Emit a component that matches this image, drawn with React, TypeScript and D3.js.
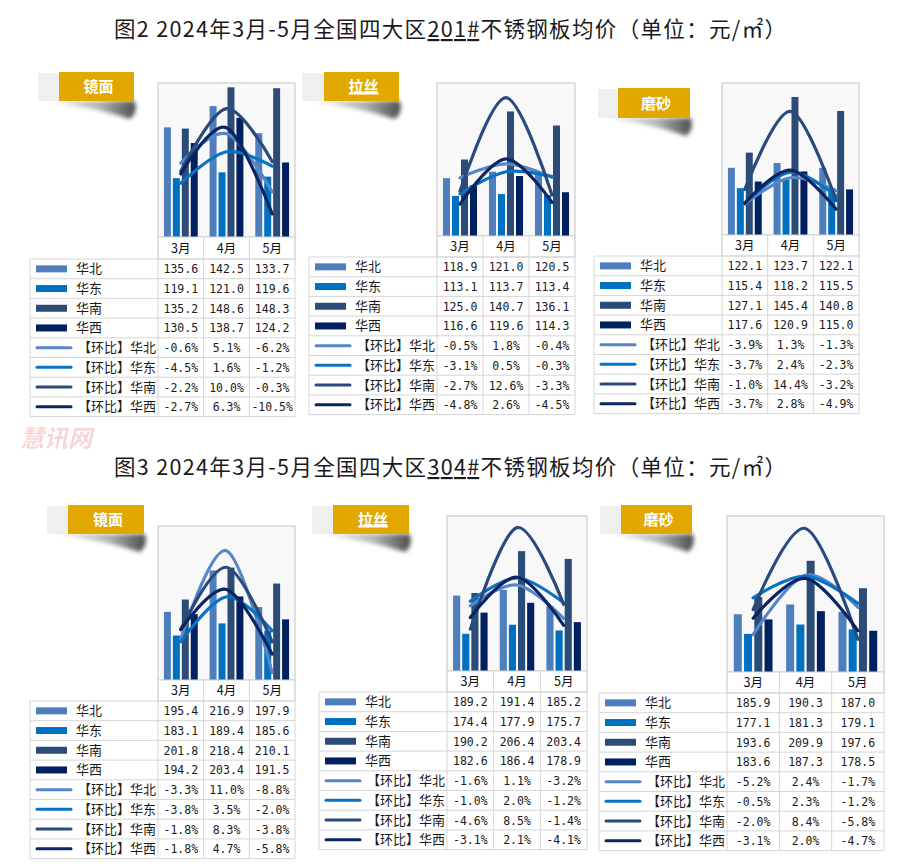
import React from "react";
import * as d3 from "d3";

const W = 900;
const H = 866;

const months = ["3月", "4月", "5月"];
const regions = ["华北", "华东", "华南", "华西"];

// 201# prices (rows: 华北, 华东, 华南, 华西; cols: 3月, 4月, 5月)
const p201Mirror = [[135.6, 142.5, 133.7], [119.1, 121.0, 119.6], [135.2, 148.6, 148.3], [130.5, 138.7, 124.2]];
const p201MirrorMoM = [[-0.6, 5.1, -6.2], [-4.5, 1.6, -1.2], [-2.2, 10.0, -0.3], [-2.7, 6.3, -10.5]];
const p201Brushed = [[118.9, 121.0, 120.5], [113.1, 113.7, 113.4], [125.0, 140.7, 136.1], [116.6, 119.6, 114.3]];
const p201BrushedMoM = [[-0.5, 1.8, -0.4], [-3.1, 0.5, -0.3], [-2.7, 12.6, -3.3], [-4.8, 2.6, -4.5]];
const p201Matte = [[122.1, 123.7, 122.1], [115.4, 118.2, 115.5], [127.1, 145.4, 140.8], [117.6, 120.9, 115.0]];
const p201MatteMoM = [[-3.9, 1.3, -1.3], [-3.7, 2.4, -2.3], [-1.0, 14.4, -3.2], [-3.7, 2.8, -4.9]];
// 304# prices
const p304Mirror = [[195.4, 216.9, 197.9], [183.1, 189.4, 185.6], [201.8, 218.4, 210.1], [194.2, 203.4, 191.5]];
const p304MirrorMoM = [[-3.3, 11.0, -8.8], [-3.8, 3.5, -2.0], [-1.8, 8.3, -3.8], [-1.8, 4.7, -5.8]];
const p304Brushed = [[189.2, 191.4, 185.2], [174.4, 177.9, 175.7], [190.2, 206.4, 203.4], [182.6, 186.4, 178.9]];
const p304BrushedMoM = [[-1.6, 1.1, -3.2], [-1.0, 2.0, -1.2], [-4.6, 8.5, -1.4], [-3.1, 2.1, -4.1]];
const p304Matte = [[185.9, 190.3, 187.0], [177.1, 181.3, 179.1], [193.6, 209.9, 197.6], [183.6, 187.3, 178.5]];
const p304MatteMoM = [[-5.2, 2.4, -1.7], [-0.5, 2.3, -1.2], [-2.0, 8.4, -5.8], [-3.1, 2.0, -4.7]];

const finishLabels = ["镜面", "拉丝", "磨砂"];
const barDomains = [[100, 150], [100, 150], [100, 150], [160, 240], [160, 220], [160, 230]];
const lineDomains = [[-15, 15], [-10, 15], [-10, 20], [-10, 15], [-10, 10], [-10, 10]];
const momPrefix = "【环比】";

const barColors = ["#4F7EBD", "#0070C0", "#2C4C78", "#002060"];
const lineColors = ["#5686C8", "#0A72C2", "#2A4A7E", "#0B2462"];

const titleParts = [
  ["图2 2024年3月-5月全国四大区", "201#", "不锈钢板均价（单位：元/㎡）"],
  ["图3 2024年3月-5月全国四大区", "304#", "不锈钢板均价（单位：元/㎡）"],
];

// layout (positions only)
const layouts = [
  { tag: [38, 59, 134, 72, 101], px0: 158, px1: 295, py0: 83, py1: 237, cat: 259, tl: 30 },
  { tag: [302, 324, 399, 72, 101], px0: 437, px1: 575, py0: 83, py1: 236, cat: 257, tl: 309 },
  { tag: [598, 618, 690, 88, 118], px0: 722, px1: 859, py0: 83, py1: 235, cat: 256, tl: 594 },
  { tag: [47, 68, 144, 505, 534], px0: 158, px1: 295, py0: 526, py1: 680, cat: 701, tl: 30 },
  { tag: [312, 333, 409, 505, 534], px0: 447, px1: 587, py0: 516, py1: 671, cat: 692, tl: 319 },
  { tag: [600, 621, 692, 505, 534], px0: 727, px1: 884, py0: 516, py1: 672, cat: 693, tl: 599 },
];

const panelsData = [
  { bars: p201Mirror, mom: p201MirrorMoM },
  { bars: p201Brushed, mom: p201BrushedMoM },
  { bars: p201Matte, mom: p201MatteMoM },
  { bars: p304Mirror, mom: p304MirrorMoM },
  { bars: p304Brushed, mom: p304BrushedMoM },
  { bars: p304Matte, mom: p304MatteMoM },
];

const ROW_H = 19.7;
const CJK = "'Noto Sans CJK SC', 'Noto Sans', sans-serif";
const MONO = "'DejaVu Sans Mono', 'Liberation Mono', monospace";
const GRID = "#D6D6D6";

function Tag({ idx, lay }: any) {
  const [gx0, gx1, gx2, y0, y1] = lay.tag;
  const label = finishLabels[idx % 3];
  const underline = idx % 3 === 1;
  const sh = `M${gx0 + 8},${y1} L${gx2 + 1},${y1} Q${gx2 + 4},${y1 + 12} ${gx2 - 4},${y1 + 18} Q${gx0 + 55},${y1 + 6} ${gx0 + 8},${y1} Z`;
  return (
    <g>
      <path d={sh} fill="url(#shadowGrad)" filter="url(#blur2)" />
      <rect x={gx0} y={y0 + 1} width={gx1 - gx0} height={y1 - y0 - 1} fill="#EFEFEF" />
      <rect x={gx1} y={y0} width={gx2 - gx1} height={y1 - y0} fill="#E1A900" />
      <text
        x={(gx1 + gx2) / 2 + 2}
        y={(y0 + y1) / 2 + 5.5}
        textAnchor="middle"
        fontFamily={CJK}
        fontWeight={700}
        fontSize={15}
        fill="#FFFFFF"
        textDecoration={underline ? "underline" : undefined}
      >
        {label}
      </text>
    </g>
  );
}

function Panel({ idx }: any) {
  const lay = layouts[idx];
  const data = panelsData[idx];
  const x = d3.scaleBand<string>().domain(months).range([lay.px0, lay.px1]);
  const bw = x.bandwidth();
  const inner = d3
    .scaleBand<string>()
    .domain(regions)
    .range([bw * 0.13, bw * 0.87])
    .paddingInner(0.22);
  const yb = d3.scaleLinear().domain(barDomains[idx]).range([lay.py1, lay.py0]);
  const yl = d3.scaleLinear().domain(lineDomains[idx]).range([lay.py1, lay.py0]);
  const line = d3
    .line<number>()
    .x((_, i) => (x(months[i]) as number) + bw / 2)
    .y((d) => yl(d))
    .curve(d3.curveCardinal.tension(0));

  const tl = lay.tl;
  const tr = lay.px1;
  const rowTop = lay.cat;
  const nRows = 8;
  const rows: any[] = [];
  for (let r = 0; r < nRows; r++) {
    const ri = r % 4;
    const isLine = r >= 4;
    const cy = rowTop + r * ROW_H + ROW_H / 2;
    const vals = isLine ? data.mom[ri] : data.bars[ri];
    rows.push(
      <g key={r}>
        {isLine ? (
          <line x1={tl + 7} x2={tl + 41} y1={cy} y2={cy} stroke={lineColors[ri]} strokeWidth={3} strokeLinecap="round" />
        ) : (
          <rect x={tl + 6} y={cy - 3.5} width={31} height={7} fill={barColors[ri]} />
        )}
        <text
          x={isLine ? tl + 48 : tl + 46}
          y={cy + 4.5}
          fontFamily={CJK}
          fontSize={13}
          fill="#1a1a1a"
        >
          {isLine ? momPrefix + regions[ri] : regions[ri]}
        </text>
        {vals.map((v: number, j: number) => (
          <text
            key={j}
            x={(x(months[j]) as number) + bw / 2}
            y={cy + 4.5}
            textAnchor="middle"
            fontFamily={MONO}
            fontSize={11.5}
            fill="#1a1a1a"
          >
            {isLine ? v.toFixed(1) + "%" : v.toFixed(1)}
          </text>
        ))}
      </g>
    );
  }
  const tableBottom = rowTop + nRows * ROW_H;

  return (
    <g>
      <Tag idx={idx} lay={lay} />
      <rect x={lay.px0} y={lay.py0} width={lay.px1 - lay.px0} height={lay.py1 - lay.py0} fill="#F8F8F8" stroke="#C4C4C4" strokeWidth={1} />
      {data.bars.map((series: number[], si: number) =>
        series.map((v, j) => (
          <rect
            key={`b${si}-${j}`}
            x={(x(months[j]) as number) + (inner(regions[si]) as number)}
            y={yb(v)}
            width={inner.bandwidth()}
            height={lay.py1 - yb(v)}
            fill={barColors[si]}
          />
        ))
      )}
      {data.mom.map((series: number[], si: number) => (
        <path key={`l${si}`} d={line(series) || ""} fill="none" stroke={lineColors[si]} strokeWidth={3.2} strokeLinecap="round" />
      ))}
      <rect x={lay.px0} y={lay.py1} width={lay.px1 - lay.px0} height={rowTop - lay.py1} fill="#FFFFFF" stroke={GRID} />
      {months.map((m) => (
        <g key={m}>
          <line x1={x(m) as number} x2={x(m) as number} y1={lay.py1} y2={tableBottom} stroke={GRID} />
          <text
            x={(x(m) as number) + bw / 2}
            y={(lay.py1 + rowTop) / 2 + 4.5}
            textAnchor="middle"
            fontFamily={CJK}
            fontSize={12.5}
            fill="#111"
          >
            {m}
          </text>
        </g>
      ))}
      {d3.range(nRows + 1).map((r) => (
        <line key={`h${r}`} x1={tl} x2={tr} y1={rowTop + r * ROW_H} y2={rowTop + r * ROW_H} stroke={GRID} />
      ))}
      <line x1={tl} x2={tl} y1={rowTop} y2={tableBottom} stroke={GRID} />
      <line x1={tr} x2={tr} y1={lay.py1} y2={tableBottom} stroke={GRID} />
      {rows}
    </g>
  );
}

function Title({ parts, y }: any) {
  return (
    <text x={W / 2} y={y} textAnchor="middle" fontFamily={CJK} fontWeight={400} fontSize={21.5} fill="#1a1a1a" textLength={672} lengthAdjust="spacing">
      <tspan>{parts[0]}</tspan>
      <tspan textDecoration="underline">{parts[1]}</tspan>
      <tspan>{parts[2]}</tspan>
    </text>
  );
}

export default function App() {
  return (
    <svg width={W} height={H} style={{ position: "absolute", left: 0, top: 0, background: "#fff" }}>
      <defs>
        <linearGradient id="shadowGrad" x1="0" y1="0" x2="1" y2="0">
          <stop offset="0" stopColor="#000" stopOpacity={0.05} />
          <stop offset="0.6" stopColor="#000" stopOpacity={0.3} />
          <stop offset="1" stopColor="#000" stopOpacity={0.7} />
        </linearGradient>
        <filter id="blur2" x="-20%" y="-50%" width="140%" height="200%">
          <feGaussianBlur stdDeviation={2.2} />
        </filter>
      </defs>
      <rect width={W} height={H} fill="#fff" />
      <g opacity={0.18} fill="#D42020">
        <text x={20} y={447} fontFamily={CJK} fontWeight={700} fontStyle="italic" fontSize={24}>慧讯网</text>
      </g>
      <Title parts={titleParts[0]} y={37} />
      <Title parts={titleParts[1]} y={475} />
      {layouts.map((_, i) => (
        <Panel key={i} idx={i} />
      ))}
    </svg>
  );
}
